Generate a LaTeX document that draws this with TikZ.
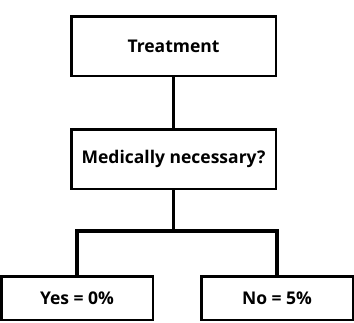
\documentclass[tikz,border=0pt]{standalone}
\usepackage{fontspec}
\setmainfont{Open Sans}

\begin{document}
\begin{tikzpicture}[x=1pt, y=-1pt,
  box/.style={draw, line width=2.5pt, rectangle, align=center,
    font=\fontsize{17.5}{21}\selectfont\bfseries, inner sep=0pt},
  wide/.style={box, minimum width=204.5pt, minimum height=59.5pt},
  leaf/.style={box, minimum width=151.5pt, minimum height=43.5pt},
  link/.style={line width=3.5pt}]
% Fix the page size
\useasboundingbox (0,0) rectangle (354,322);

% Boxes
\node[wide] (treat) at (173.5,46) {Treatment};
\node[wide] (medic) at (173.5,159) {Medically necessary?};
\node[leaf] (yes) at (77,298) {Yes = 0\%};
\node[leaf] (no) at (277,298) {No = 5\%};

% Connectors
\coordinate (split) at (173.5,231);
\draw[link] (treat.south) -- (medic.north);
\draw[link] (medic.south) -- (split);
\draw[link] (yes.north) |- (split) -| (no.north);
\end{tikzpicture}
\end{document}
